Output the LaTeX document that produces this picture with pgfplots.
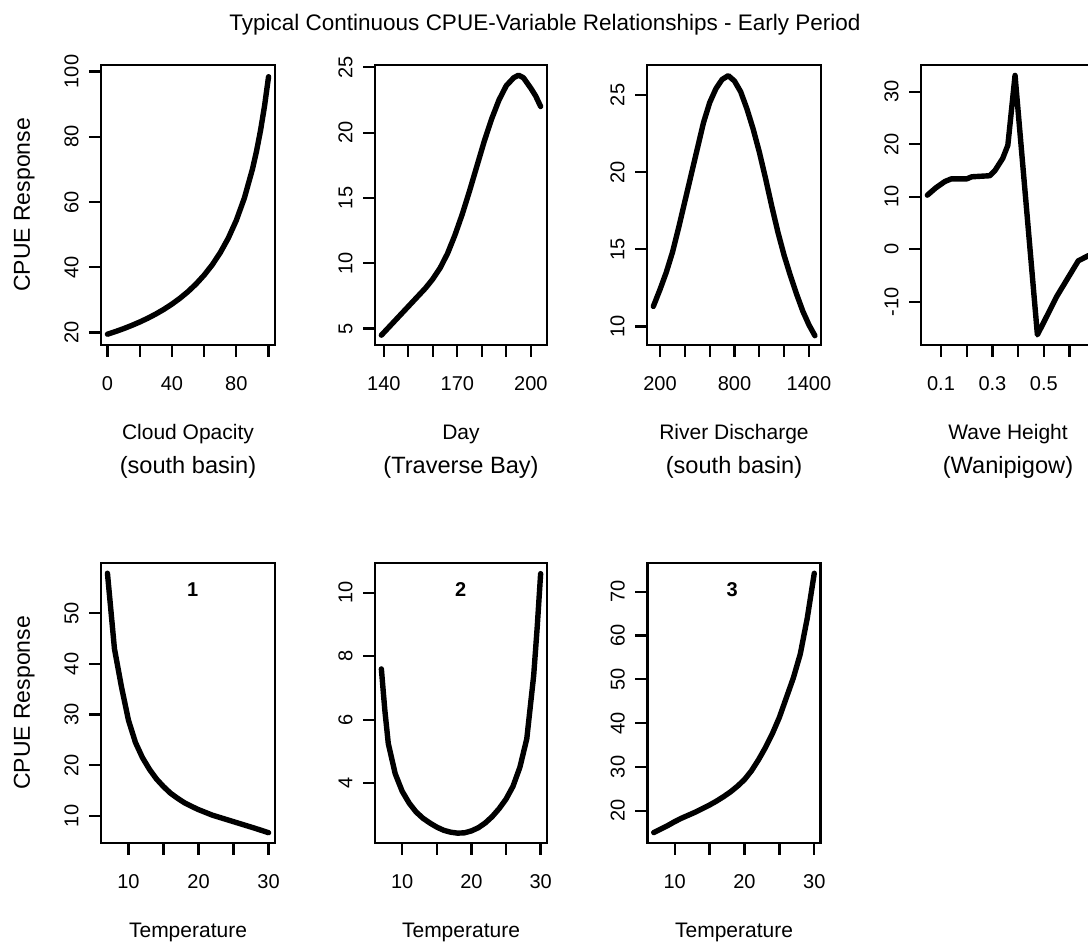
\documentclass[border=0pt]{standalone}
\usepackage{fontspec}
\setmainfont{Liberation Sans}
\usepackage{pgfplots}
\pgfplotsset{compat=1.18}
\pgfplotsset{rpanel/.style={
  scale only axis, height=140pt, anchor=south west,
  axis line style={line width=1.35pt},
  tick style={line width=1.15pt, black},
  major tick length=6pt, tick align=outside, tick pos=left,
  minor tick num=0,
  xticklabel style={font=\fontsize{10}{12}\selectfont, anchor=base, yshift=-16.85pt},
  yticklabel style={font=\fontsize{10}{12}\selectfont, xshift=-5.35pt, rotate=90, anchor=base},
},
rline/.style={line width=2.7pt, black, line join=round, line cap=round, mark=none}}
\begin{document}
\begin{tikzpicture}
\path[use as bounding box, clip] (0,0) rectangle (544pt,472.5pt);
% title and labels
\node[anchor=base, font=\fontsize{11.25}{13}\selectfont] at (272.5pt,457pt) {Typical Continuous CPUE-Variable Relationships - Early Period};
\node[anchor=base, rotate=90, font=\fontsize{11.5}{13}\selectfont] at (15pt,370pt) {CPUE Response};
\node[anchor=base, rotate=90, font=\fontsize{11.5}{13}\selectfont] at (15pt,121pt) {CPUE Response};
\begin{scope}[every node/.style={anchor=base, font=\fontsize{10.5}{12}\selectfont}]
\node at (94pt,252.5pt) {Cloud Opacity};
\node at (230.5pt,252.5pt) {Day};
\node at (367pt,252.5pt) {River Discharge};
\node at (504pt,252.5pt) {Wave Height};
\node at (94pt,3.5pt) {Temperature};
\node at (230.5pt,3.5pt) {Temperature};
\node at (367pt,3.5pt) {Temperature};
\end{scope}
\begin{scope}[every node/.style={anchor=base, font=\fontsize{11.8}{13}\selectfont}]
\node at (94pt,235.5pt) {(south basin)};
\node at (230.5pt,235.5pt) {(Traverse Bay)};
\node at (367pt,235.5pt) {(south basin)};
\node at (504pt,235.5pt) {(Wanipigow)};
\end{scope}

% Panel 1: Cloud Opacity
\begin{axis}[rpanel, at={(50.5pt,300pt)}, width=87pt,
  xmin=-4, xmax=104, ymin=16.2, ymax=102,
  xtick={0,20,40,60,80,100}, xticklabels={0,,40,,80,},
  ytick={20,40,60,80,100}, yticklabels={20,40,60,80,100}]
\addplot[rline] coordinates {(0,19.5)(5,20.31)(10,21.2)(15,22.17)(20,23.23)(25,24.39)(30,25.68)(35,27.11)(40,28.71)(45,30.51)(50,32.55)(55,34.89)(60,37.59)(65,40.74)(70,44.46)(75,48.93)(80,54.4)(85,61.25)(90,70.07)(92.5,75.5)(95,81.87)(97.5,89.4)(100,98.4)};
\end{axis}

% Panel 2: Day
\begin{axis}[rpanel, at={(187.5pt,300pt)}, width=86pt,
  xmin=136.4, xmax=206.6, ymin=3.75, ymax=25.18,
  xtick={140,150,...,200}, xticklabels={140,,,170,,,200},
  ytick={5,10,15,20,25}, yticklabels={5,10,15,20,25}]
\addplot[rline] coordinates {(139,4.5)(142,5.1)(145,5.7)(148,6.3)(151,6.9)(154,7.5)(157,8.1)(160,8.8)(163,9.65)(166,10.75)(169,12.15)(172,13.75)(175,15.55)(178,17.45)(181,19.35)(184,21.05)(187,22.5)(190,23.6)(193,24.2)(195,24.4)(197,24.2)(200,23.4)(202,22.8)(204,22.0)};
\end{axis}

% Panel 3: River Discharge
\begin{axis}[rpanel, at={(323.5pt,300pt)}, width=87pt,
  xmin=95, xmax=1497, ymin=8.8, ymax=26.94,
  xtick={200,400,...,1400}, xticklabels={200,,,800,,,1400},
  ytick={10,15,20,25}, yticklabels={10,15,20,25}]
\addplot[rline] coordinates {(146,11.3)(200,12.4)(250,13.5)(300,14.8)(350,16.4)(400,18.1)(450,19.8)(500,21.5)(550,23.2)(600,24.5)(650,25.4)(700,26.0)(750,26.25)(800,25.9)(850,25.2)(900,24.1)(950,22.8)(1000,21.3)(1050,19.6)(1100,17.8)(1150,16.1)(1200,14.6)(1250,13.3)(1300,12.1)(1350,11.0)(1400,10.1)(1448,9.4)};
\end{axis}

% Panel 4: Wave Height
\begin{axis}[rpanel, at={(460.5pt,300pt)}, width=87pt,
  xmin=0.0222, xmax=0.699, ymin=-18.23, ymax=35.09,
  xtick={0.1,0.2,0.3,0.4,0.5,0.6}, xticklabels={0.1,,0.3,,0.5,},
  ytick={-10,0,10,20,30}, yticklabels={-10,0,10,20,30}]
\addplot[rline] coordinates {(0.047,10.3)(0.08,11.7)(0.115,12.9)(0.14,13.4)(0.20,13.4)(0.22,13.8)(0.29,14.0)(0.31,15.0)(0.34,17.3)(0.36,19.8)(0.388,33.1)(0.475,-16.3)(0.55,-9.0)(0.634,-2.2)(0.674,-1.2)};
\end{axis}

% Bottom 1
\begin{axis}[rpanel, at={(50.5pt,51pt)}, width=87pt,
  xmin=6.08, xmax=30.92, ymin=4.67, ymax=59.92,
  xtick={10,15,20,25,30}, xticklabels={10,,20,,30},
  ytick={10,20,30,40,50}, yticklabels={10,20,30,40,50}]
\addplot[rline] coordinates {(7,57.9)(8,43.0)(9,35.5)(10,28.9)(11,24.5)(12,21.5)(13,19.2)(14,17.3)(15,15.8)(16,14.5)(17,13.5)(18,12.6)(19,11.9)(20,11.25)(22,10.15)(24,9.3)(26,8.45)(28,7.6)(30,6.7)};
\node[font=\bfseries\fontsize{10}{12}\selectfont] at (rel axis cs:0.527,0.904) {1};
\end{axis}

% Bottom 2
\begin{axis}[rpanel, at={(187.5pt,51pt)}, width=86pt,
  xmin=6.08, xmax=30.92, ymin=2.12, ymax=10.935,
  xtick={10,15,20,25,30}, xticklabels={10,,20,,30},
  ytick={4,6,8,10}, yticklabels={4,6,8,10}]
\addplot[rline] coordinates {(7,7.6)(7.5,6.3)(8,5.25)(9,4.3)(10,3.75)(11,3.38)(12,3.1)(13,2.9)(14,2.75)(15,2.62)(16,2.52)(17,2.46)(18,2.43)(19,2.44)(20,2.5)(21,2.6)(22,2.75)(23,2.95)(24,3.2)(25,3.5)(26,3.9)(27,4.5)(28,5.4)(29,7.4)(29.5,8.9)(30,10.6)};
\node[font=\bfseries\fontsize{10}{12}\selectfont] at (rel axis cs:0.498,0.904) {2};
\end{axis}

% Bottom 3
\begin{axis}[rpanel, at={(323.65pt,51pt)}, width=86.7pt,
  xmin=6.08, xmax=30.92, ymin=12.63, ymax=76.55,
  xtick={10,15,20,25,30}, xticklabels={10,,20,,30},
  ytick={20,30,40,50,60,70}, yticklabels={20,30,40,50,60,70}]
\addplot[rline] coordinates {(7,15.0)(8,15.8)(9,16.6)(10,17.5)(11,18.3)(12,19.0)(13,19.7)(14,20.5)(15,21.3)(16,22.2)(17,23.2)(18,24.3)(19,25.6)(20,27.1)(21,29.1)(22,31.6)(23,34.4)(24,37.6)(25,41.3)(26,45.8)(27,50.3)(28,55.8)(29,64.0)(30,74.2)};
\node[font=\bfseries\fontsize{10}{12}\selectfont] at (rel axis cs:0.49,0.904) {3};
\end{axis}
\end{tikzpicture}
\end{document}
